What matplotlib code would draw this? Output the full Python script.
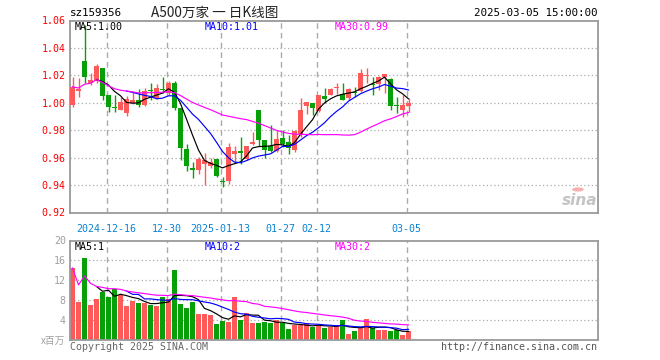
import matplotlib
matplotlib.use('Agg')
import matplotlib.pyplot as plt
from matplotlib.patches import Circle
import numpy as np
import pandas as pd

# ---------------- data ----------------
opens = [0.9983, 1.0088, 1.0305, 1.0141, 1.0161, 1.0254, 1.0056, 0.9971, 0.9951, 0.9922,
         1.0000, 1.0020, 0.9983, 1.0088, 1.0032, 1.0098, 1.0068, 1.0141, 0.9959, 0.9666,
         0.9524, 0.9507, 0.9551, 0.9537, 0.9588, 0.9427, 0.9429, 0.9624, 0.9649, 0.9588,
         0.9702, 0.9951, 0.9727, 0.9683, 0.9649, 0.9746, 0.9712, 0.9654, 0.9771, 0.9978,
         1.0000, 0.9941, 1.0049, 1.0056, 1.0107, 1.0063, 1.0037, 1.0080, 1.0085, 1.0193,
         1.0134, 1.0134, 1.0190, 1.0171, 0.9980, 0.9946, 0.9976]
highs = [1.0190, 1.0178, 1.0570, 1.0215, 1.0280, 1.0254, 1.0056, 1.0056, 1.0041, 1.0053,
         1.0078, 1.0097, 1.0110, 1.0146, 1.0137, 1.0190, 1.0160, 1.0160, 0.9959, 0.9698,
         0.9566, 0.9605, 0.9634, 0.9600, 0.9593, 0.9459, 0.9710, 0.9683, 0.9754, 0.9683,
         0.9790, 0.9951, 0.9727, 0.9837, 0.9800, 0.9800, 0.9763, 0.9805, 1.0032, 1.0005,
         1.0000, 1.0056, 1.0105, 1.0110, 1.0146, 1.0146, 1.0105, 1.0117, 1.0244, 1.0251,
         1.0185, 1.0195, 1.0210, 1.0183, 1.0044, 1.0056, 1.0032]
lows = [0.9970, 1.0044, 1.0141, 1.0129, 1.0141, 1.0019, 0.9934, 0.9934, 0.9951, 0.9902,
        0.9993, 0.9970, 0.9978, 1.0022, 1.0029, 1.0073, 1.0060, 0.9946, 0.9585, 0.9502,
        0.9454, 0.9483, 0.9402, 0.9527, 0.9459, 0.9385, 0.9410, 0.9561, 0.9551, 0.9580,
        0.9695, 0.9683, 0.9600, 0.9641, 0.9641, 0.9678, 0.9629, 0.9641, 0.9751, 0.9917,
        0.9910, 0.9934, 0.9995, 1.0056, 1.0063, 1.0020, 1.0020, 1.0044, 1.0080, 1.0141,
        1.0056, 1.0093, 1.0073, 0.9946, 0.9922, 0.9893, 0.9934]
closes = [1.0117, 1.0098, 1.0190, 1.0166, 1.0271, 1.0049, 0.9971, 0.9959, 1.0005, 1.0029,
          1.0022, 0.9983, 1.0088, 1.0083, 1.0105, 1.0093, 1.0141, 0.9959, 0.9673, 0.9539,
          0.9512, 0.9593, 0.9580, 0.9568, 0.9466, 0.9420, 0.9678, 0.9646, 0.9634, 0.9683,
          0.9712, 0.9727, 0.9659, 0.9649, 0.9734, 0.9698, 0.9673, 0.9795, 0.9951, 1.0005,
          0.9959, 1.0056, 1.0024, 1.0100, 1.0112, 1.0020, 1.0098, 1.0068, 1.0215, 1.0198,
          1.0127, 1.0185, 1.0210, 0.9978, 0.9973, 0.9983, 1.0000]
volumes = [14.47, 7.67, 16.47, 7.0, 8.2, 9.67, 8.67, 10.33, 9.13, 6.8,
           7.87, 7.47, 7.47, 7.0, 6.8, 8.67, 8.2, 14.0, 7.2, 6.47,
           7.67, 5.2, 5.2, 5.0, 3.2, 3.87, 3.6, 8.6, 4.0, 5.47,
           3.4, 3.4, 3.67, 3.4, 4.0, 3.4, 2.2, 3.07, 2.93, 3.33,
           2.67, 2.93, 2.4, 2.67, 3.0, 4.0, 1.2, 1.8, 2.33, 4.2,
           2.47, 2.0, 2.0, 1.8, 2.0, 1.0, 1.8]
tick_idx = [6, 16, 25, 35, 41, 56]
tick_labels = ['2024-12-16', '12-30', '2025-01-13', '01-27', '02-12', '03-05']
price_ticks = [0.92, 0.94, 0.96, 0.98, 1.00, 1.02, 1.04, 1.06]
vol_ticks = [4, 8, 12, 16, 20]
title_code = 'sz159356'
title_name = 'A500万家 一 日K线图'
title_time = '2025-03-05 15:00:00'
price_ma_labels = ['MA5:1.00', 'MA10:1.01', 'MA30:0.99']
vol_ma_labels = ['MA5:1', 'MA10:2', 'MA30:2']

# ---------------- styling ----------------
RED = '#ff5a5a'
GREEN = '#08a008'
GRID = '#aaaaaa'
SPINE = '#9a9a9a'
MONO = 'DejaVu Sans Mono'
FS = 7.2
W, H = 660, 360

o = np.array(opens); h = np.array(highs); l = np.array(lows); c = np.array(closes)
v = np.array(volumes)
n = len(c)
x = np.arange(n)
up = c >= o
cols = np.where(up, RED, GREEN)

cs = pd.Series(c)
ma5 = cs.rolling(5).mean()
ma10 = cs.rolling(10).mean()
ma30 = cs.rolling(30, min_periods=1).mean()
vs = pd.Series(v)
vma5 = vs.rolling(5).mean()
vma10 = vs.rolling(10).mean()
vma30 = vs.rolling(30, min_periods=1).mean()

fig = plt.figure(figsize=(6.6, 3.6), dpi=100)


def rect(left, top, right, bottom):
    return [left / W, 1 - bottom / H, (right - left) / W, (bottom - top) / H]


def ft(px, py, s, **kw):
    fig.text(px / W, 1 - py / H, s, **kw)


ax = fig.add_axes(rect(70, 20.5, 598, 212.5))
axv = fig.add_axes(rect(70, 240.5, 598, 340))

xlim = (-2.5 / 6, -2.5 / 6 + 528 / 6)

for a in (ax, axv):
    a.set_xlim(*xlim)
    for s in a.spines.values():
        s.set_color(SPINE)
        s.set_linewidth(1.3)
    a.tick_params(length=0)
    for ti in tick_idx:
        a.axvline(ti - 0.3, color=GRID, lw=1.0, ls=(0, (4, 3)), zorder=0)

# ---- price panel ----
for yv in price_ticks[1:-1]:
    ax.axhline(yv, color=GRID, lw=0.9, ls=(0, (1, 2)), zorder=0)

ax.vlines(x, l, h, colors=cols, lw=1.0, zorder=2)
body_h = np.maximum(np.abs(c - o), 0.0008)
body_b = np.minimum(o, c)
ax.bar(x, body_h, bottom=body_b, width=5 / 6, color=cols, linewidth=0, zorder=3)
ax.plot(x, ma5, color='black', lw=0.85, zorder=4)
ax.plot(x, ma10, color='#0000ff', lw=0.85, zorder=4)
ax.plot(x, ma30, color='#ff00ff', lw=0.85, zorder=4)
ax.set_ylim(0.92, 1.06)
ax.set_yticks(price_ticks)
ax.set_yticklabels(['%.2f' % t for t in price_ticks], color='#ff0000',
                   fontfamily=MONO, fontsize=FS)
ax.tick_params(axis='y', pad=3)
ax.set_xticks([t - 0.3 for t in tick_idx])
ax.set_xticklabels(tick_labels, color='#0a82d2', fontfamily=MONO, fontsize=FS)
ax.tick_params(axis='x', pad=8)

# sina logo
ax.text(0.998, 0.025, 'sina', transform=ax.transAxes, ha='right', va='bottom',
        fontsize=11, fontstyle='italic', fontweight='bold', color='#c4c4c4',
        family='DejaVu Sans', zorder=1)
ax.add_patch(Circle((0.962, 0.12), 0.011, transform=ax.transAxes,
                    facecolor='#f6b0b0', edgecolor='none', zorder=1))

# ---- volume panel ----
for yv in vol_ticks[:-1]:
    axv.axhline(yv, color=GRID, lw=0.9, ls=(0, (1, 2)), zorder=0)
axv.bar(x, v, width=5 / 6, color=cols, linewidth=0, zorder=2)
axv.plot(x, vma5, color='black', lw=0.85, zorder=3)
axv.plot(x, vma10, color='#0000ff', lw=0.85, zorder=3)
axv.plot(x, vma30, color='#ff00ff', lw=0.85, zorder=3)
axv.set_ylim(0, 20)
axv.set_yticks(vol_ticks)
axv.set_yticklabels([str(t) for t in vol_ticks], color='#a0a0a0',
                    fontfamily=MONO, fontsize=FS)
axv.tick_params(axis='y', pad=3)
axv.set_xticks([])

# ---- texts ----
ft(70, 13, title_code, fontfamily=MONO, fontsize=FS + 0.6, va='center', ha='left')
ft(151, 13, title_name, family=['Noto Sans CJK SC', 'DejaVu Sans'], fontsize=9.8,
   va='center', ha='left', color='#222222')
ft(597, 13, title_time, fontfamily=MONO, fontsize=FS + 0.6, va='center', ha='right')

ma_cols = ['black', '#0000ff', '#ff00ff']
ma_x = [75, 205, 335]
for s, cc, px in zip(price_ma_labels, ma_cols, ma_x):
    ft(px, 27, s, fontfamily=MONO, fontsize=FS, color=cc, va='center', ha='left')
for s, cc, px in zip(vol_ma_labels, ma_cols, ma_x):
    ft(px, 246.5, s, fontfamily=MONO, fontsize=FS, color=cc, va='center', ha='left')

ft(65, 341, 'x百万', family=['Noto Sans CJK SC', 'DejaVu Sans'], fontsize=7,
   color='#a0a0a0', va='center', ha='right')
ft(70, 347, 'Copyright 2025 SINA.COM', fontfamily=MONO, fontsize=FS,
   color='#666666', va='center', ha='left')
ft(597, 347, 'http://finance.sina.com.cn', fontfamily=MONO, fontsize=FS,
   color='#555555', va='center', ha='right')

fig.savefig('out.png', dpi=100)
